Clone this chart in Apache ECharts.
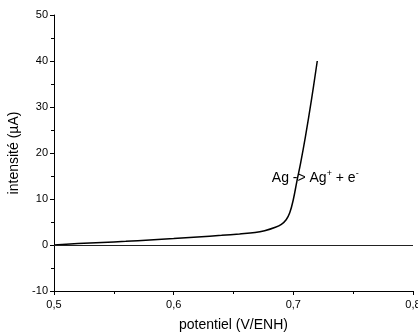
<!DOCTYPE html>
<html>
<head>
<meta charset="utf-8">
<script src="https://cdn.jsdelivr.net/npm/echarts@6/dist/echarts.min.js"></script>
<style>
html,body{margin:0;padding:0;background:#fff;}
#c{width:418px;height:335px;}
</style>
</head>
<body>
<div id="c"></div>
<script>
var potentials = [0.50, 0.52, 0.54, 0.56, 0.58, 0.60, 0.62, 0.64, 0.655, 0.668, 0.676, 0.685, 0.690, 0.694, 0.697, 0.700, 0.703, 0.706, 0.710, 0.7154, 0.72];
var currents   = [0.0, 0.3, 0.55, 0.8, 1.1, 1.4, 1.75, 2.1, 2.4, 2.7, 3.1, 3.85, 4.5, 5.5, 7.0, 9.9, 13.9, 17.7, 23.4, 32.0, 40.0];
var xTicks = {min: 0.5, max: 0.8, interval: 0.1};
var yTicks = {min: -10, max: 50, interval: 10};
var annotation = {x: 0.682, y: 14.6, text: 'Ag -> Ag{sup|+} + e{sup|-}'};

var data = potentials.map(function (p, i) { return [p, currents[i]]; });
var font = 'Liberation Sans, Arial, sans-serif';

var chart = echarts.init(document.getElementById('c'), null, {renderer: 'canvas'});
chart.setOption({
  animation: false,
  backgroundColor: '#fff',
  grid: {left: 54, right: 5, top: 15, bottom: 44, containLabel: false, outerBoundsMode: 'none'},
  xAxis: {
    type: 'value', min: xTicks.min, max: xTicks.max, interval: xTicks.interval,
    name: 'potentiel (V/ENH)', nameLocation: 'middle', nameGap: 27,
    nameTextStyle: {color: '#000', fontFamily: font, fontSize: 14},
    axisLine: {show: true, onZero: false, lineStyle: {color: '#000', width: 1}},
    axisTick: {show: true, inside: false, length: 4, lineStyle: {color: '#000'}},
    minorTick: {show: true, splitNumber: 2, length: 3, lineStyle: {color: '#000'}},
    splitLine: {show: false},
    axisLabel: {color: '#000', fontFamily: font, fontSize: 11, margin: 8,
      formatter: function (v) { return v.toFixed(1).replace('.', ','); }}
  },
  yAxis: {
    type: 'value', min: yTicks.min, max: yTicks.max, interval: yTicks.interval,
    name: 'intensité (µA)', nameLocation: 'middle', nameGap: 30,
    nameTextStyle: {color: '#000', fontFamily: font, fontSize: 14},
    axisLine: {show: true, onZero: false, lineStyle: {color: '#000', width: 1}},
    axisTick: {show: true, inside: false, length: 4, lineStyle: {color: '#000'}},
    minorTick: {show: true, splitNumber: 2, length: 3, lineStyle: {color: '#000'}},
    splitLine: {show: false},
    axisLabel: {color: '#000', fontFamily: font, fontSize: 11, margin: 6}
  },
  series: [{
    type: 'line',
    data: data,
    smooth: 0.4,
    symbol: 'none',
    lineStyle: {color: '#000', width: 1.5},
    markLine: {
      silent: true, symbol: 'none', label: {show: false},
      lineStyle: {color: '#222', width: 1, type: 'solid'},
      data: [{yAxis: 0}]
    },
    markPoint: {
      symbol: 'circle', symbolSize: 0,
      label: {
        show: true, position: 'right', distance: 0, color: '#000', fontFamily: font, fontSize: 14,
        formatter: annotation.text,
        rich: {sup: {fontSize: 9, verticalAlign: 'top', padding: [0, 0, 8, 0], color: '#000', fontFamily: font}}
      },
      data: [{coord: [annotation.x, annotation.y]}]
    }
  }]
});
</script>
</body>
</html>
